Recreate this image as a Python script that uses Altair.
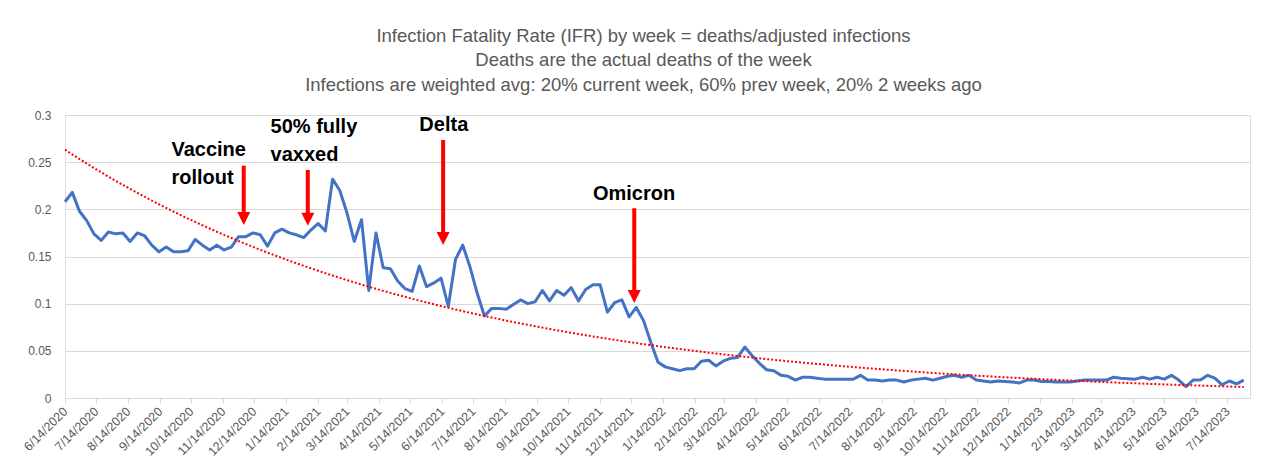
import altair as alt
import pandas as pd
import numpy as np

START = "2020-06-14"
END_DOMAIN = "2023-08-05"

# weekly IFR values, first week 6/14/2020
ifr = [0.208, 0.218, 0.198, 0.188, 0.174, 0.167, 0.176, 0.174, 0.175, 0.166,
       0.175, 0.172, 0.162, 0.155, 0.160, 0.155, 0.155, 0.156, 0.168, 0.162,
       0.157, 0.162, 0.157, 0.160, 0.171, 0.171, 0.175, 0.173, 0.161, 0.175,
       0.179, 0.175, 0.173, 0.170, 0.178, 0.185, 0.177, 0.232, 0.220, 0.196,
       0.166, 0.189, 0.114, 0.175, 0.138, 0.137, 0.124, 0.116, 0.113, 0.140,
       0.118, 0.122, 0.127, 0.097, 0.147, 0.162, 0.139, 0.111, 0.087, 0.095,
       0.095, 0.094, 0.099, 0.104, 0.100, 0.102, 0.114, 0.103, 0.114, 0.109,
       0.117, 0.103, 0.115, 0.120, 0.120, 0.091, 0.101, 0.104, 0.086, 0.096,
       0.082, 0.059, 0.038, 0.033, 0.031, 0.029, 0.031, 0.031, 0.039, 0.040,
       0.034, 0.039, 0.042, 0.043, 0.054, 0.045, 0.037, 0.030, 0.029, 0.024,
       0.023, 0.019, 0.022, 0.022, 0.021, 0.020, 0.020, 0.020, 0.020, 0.020,
       0.024, 0.019, 0.019, 0.018, 0.019, 0.019, 0.017, 0.019, 0.020, 0.021,
       0.019, 0.021, 0.023, 0.024, 0.022, 0.024, 0.019, 0.018, 0.017, 0.018,
       0.0175, 0.017, 0.016, 0.019, 0.019, 0.0175, 0.0176, 0.017, 0.017, 0.017,
       0.018, 0.019, 0.019, 0.019, 0.019, 0.022, 0.021, 0.0205, 0.020, 0.022,
       0.020, 0.022, 0.020, 0.024, 0.019, 0.012, 0.019, 0.019, 0.024, 0.021,
       0.014, 0.018, 0.015, 0.019]

title_lines = [
    "Infection Fatality Rate (IFR) by week = deaths/adjusted infections",
    "Deaths are the actual deaths of the week",
    "Infections are weighted avg: 20% current week, 60% prev week, 20% 2 weeks ago",
]

y_ticks = [0, 0.05, 0.1, 0.15, 0.2, 0.25, 0.3]

ann_text = ["Vaccine", "rollout", "50% fully", "vaxxed", "Delta", "Omicron"]
ann_date = ["2020-09-25", "2020-09-25", "2020-12-30", "2020-12-30", "2021-05-23", "2021-11-07"]
ann_val = [0.2631, 0.2333, 0.2873, 0.2577, 0.2894, 0.2164]

arrow_date = ["2020-12-04", "2021-02-04", "2021-06-15", "2021-12-17"]
arrow_top = [0.2463, 0.2418, 0.2735, 0.2012]
arrow_tip = [0.1835, 0.1825, 0.1623, 0.1006]

# ---- tables ----
dates = pd.date_range(START, periods=len(ifr), freq="7D")
days = (dates - pd.Timestamp(START)).days.values.astype(float)
coef = np.polyfit(days, np.log(np.array(ifr)), 1)
trend = np.exp(np.polyval(coef, days))

df = pd.DataFrame({"date": dates.strftime("%Y-%m-%d"), "ifr": ifr, "trend": trend})
ann = pd.DataFrame({"date": ann_date, "val": ann_val, "text": ann_text})
head_off = 0.0069
arr = pd.DataFrame({
    "date": arrow_date,
    "top": arrow_top,
    "shaft_end": [t + 0.008 for t in arrow_tip],
    "head": [t + head_off for t in arrow_tip],
})

tick_vals = []
for y in range(2020, 2024):
    for m in range(1, 13):
        if (2020, 6) <= (y, m) <= (2023, 7):
            tick_vals.append(alt.DateTime(year=y, month=m, date=14, utc=True))

s0 = pd.Timestamp(START)
s1 = pd.Timestamp(END_DOMAIN)
xscale = alt.Scale(type="utc", domain=[
    alt.DateTime(year=s0.year, month=s0.month, date=s0.day, utc=True),
    alt.DateTime(year=s1.year, month=s1.month, date=s1.day, utc=True)], nice=False)
yscale = alt.Scale(domain=[0, 0.3], nice=False)

FONT = "Liberation Sans"
GRAY = "#595959"

x_axis = alt.Axis(values=tick_vals, labelExpr="utcFormat(datum.value, '%-m/%-d/%Y')",
                  labelAngle=-45, labelAlign="right", labelBaseline="middle",
                  labelFont=FONT, labelFontSize=12.5, labelColor=GRAY,
                  domainColor="#d9d9d9", tickColor="#d9d9d9", tickSize=5,
                  labelPadding=6, grid=False, title=None, labelOverlap=False,
                  labelFlush=False, labelBound=False)
y_axis = alt.Axis(values=y_ticks, labelFont=FONT, labelFontSize=12, labelColor=GRAY,
                  domain=False, ticks=False, labelPadding=14, gridColor="#d9d9d9",
                  title=None, format="~g")

X = alt.X("date:T", scale=xscale, axis=x_axis)
base = alt.Chart(df)
line = base.mark_line(color="#4472C4", strokeWidth=3, strokeJoin="round").encode(
    x=X,
    y=alt.Y("ifr:Q", scale=yscale, axis=y_axis),
)
trend_line = base.mark_line(color="#FF0000", strokeWidth=2, strokeDash=[2, 2]).encode(
    x=X,
    y=alt.Y("trend:Q", scale=yscale, axis=y_axis),
)

shaft = alt.Chart(arr).mark_rule(color="#FF0000", strokeWidth=4).encode(
    x=X,
    y=alt.Y("top:Q", scale=yscale, axis=y_axis),
    y2="shaft_end:Q",
)
heads = alt.Chart(arr).mark_point(shape="M-1,-1L1,-1L0,1Z", filled=True, color="#FF0000",
                                  opacity=1, size=169, strokeWidth=0).encode(
    x=X,
    y=alt.Y("head:Q", scale=yscale, axis=y_axis),
)
labels = alt.Chart(ann).mark_text(font=FONT, fontSize=20, fontWeight="bold", color="#000000",
                                  align="left", baseline="middle").encode(
    x=X,
    y=alt.Y("val:Q", scale=yscale, axis=y_axis),
    text="text:N",
)

chart = alt.layer(line, trend_line, shaft, heads, labels).properties(
    width=1185,
    height=283,
    padding={"left": 57, "top": 107, "right": 7, "bottom": 61},
    autosize=alt.AutoSizeParams(type="none"),
    title=alt.TitleParams(text=title_lines, anchor="middle", font=FONT, fontSize=18.5,
                          fontWeight="normal", color=GRAY, lineHeight=24.5, offset=15, dx=-14),
).configure_view(stroke=None).configure(background="white")

chart.save("out.html", embed_options={"renderer": "svg", "actions": False})
